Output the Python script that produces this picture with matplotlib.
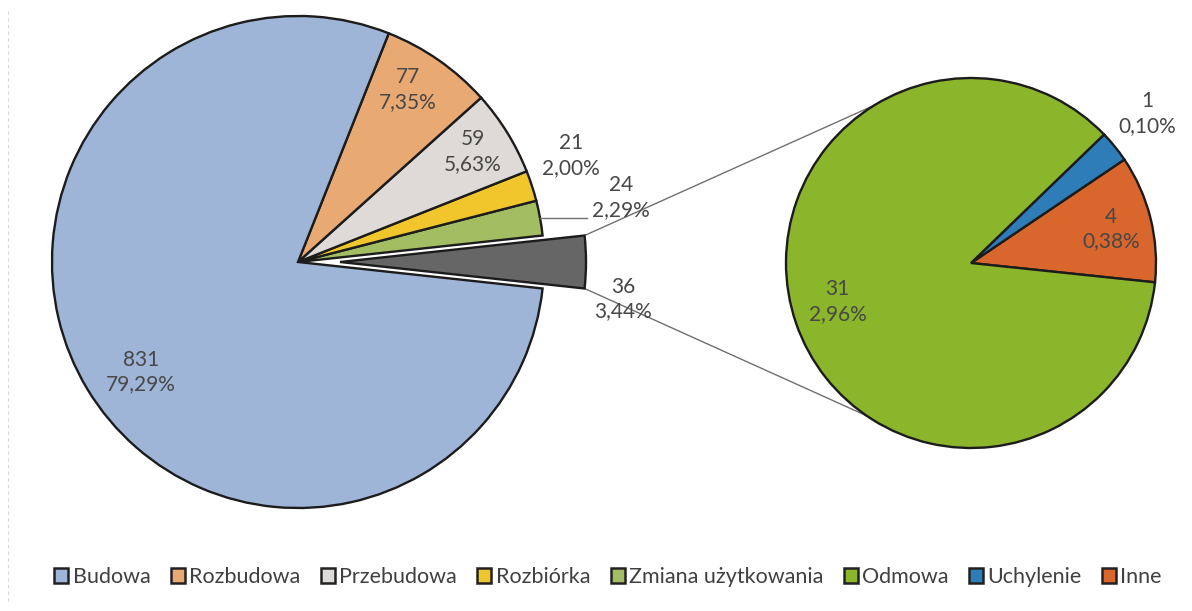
import numpy as np
import matplotlib
matplotlib.use("Agg")
import matplotlib.pyplot as plt
from matplotlib.patches import Patch

plt.rcParams['font.family'] = ['Lato', 'DejaVu Sans']

# ---- data ----
main_labels = ["Budowa", "Rozbudowa", "Przebudowa", "Rozbiórka", "Zmiana użytkowania"]
main_values = [831, 77, 59, 21, 24]
sub_labels = ["Odmowa", "Uchylenie", "Inne"]
sub_values = [31, 1, 4]

main_colors = ["#9fb5d8", "#e9a973", "#dddad7", "#f0c62c", "#a3bd62"]
other_color = "#666666"
sub_colors = ["#8bb52a", "#2f7db8", "#d9662c"]

W, H = 1192, 611
fig = plt.figure(figsize=(W / 100, H / 100), dpi=100)
ax = fig.add_axes([0, 0, 1, 1])

total = sum(main_values) + sum(sub_values)
other = sum(sub_values)

# left pie: counterclockwise from the exploded "other" slice
left_vals = [other] + main_values[::-1]
left_cols = [other_color] + main_colors[::-1]
other_deg = other / total * 360
c1 = (298, H - 262)
r1 = 246
explode_px = 42
start1 = -other_deg / 2
w1, _ = ax.pie(left_vals, colors=left_cols, startangle=start1, counterclock=True,
               center=c1, radius=r1, explode=[explode_px] + [0] * 5,
               wedgeprops=dict(edgecolor="#1c1c1c", linewidth=1.7))

# right pie
right_vals = [sub_values[2], sub_values[1], sub_values[0]]
right_cols = [sub_colors[2], sub_colors[1], sub_colors[0]]
c2 = (971, H - 263)
r2 = 185
w2, _ = ax.pie(right_vals, colors=right_cols, startangle=-6, counterclock=True,
               center=c2, radius=r2,
               wedgeprops=dict(edgecolor="#1c1c1c", linewidth=1.7))

def fmt(v):
    return f"{v}\n{v / total * 100:.2f}%".replace(".", ",")

txt_kw = dict(ha="center", va="center", fontsize=15, color="#474747", linespacing=1.3)

# label distances (fraction of radius) and angle offsets for left pie, in left_vals order
left_dist = [1.33, 1.34, 1.19, 0.84, 0.83, 0.78]
left_dang = [-6.5, 1.0, 3.3, 0.6, 2.4, 3.9]
for w, v, d, da in zip(w1, left_vals, left_dist, left_dang):
    mid = np.deg2rad((w.theta1 + w.theta2) / 2 + da)
    ax.text(c1[0] + d * r1 * np.cos(mid), c1[1] + d * r1 * np.sin(mid), fmt(v), **txt_kw)

right_dist = [0.78, 1.25, 0.75]
right_dang = [-0.4, 1.3, -3.0]
for w, v, d, da in zip(w2, right_vals, right_dist, right_dang):
    mid = np.deg2rad((w.theta1 + w.theta2) / 2 + da)
    ax.text(c2[0] + d * r2 * np.cos(mid), c2[1] + d * r2 * np.sin(mid), fmt(v), **txt_kw)

# leader line for the "24" label
wz = w1[1]
mz = np.deg2rad((wz.theta1 + wz.theta2) / 2)
x0 = c1[0] + r1 * np.cos(mz)
y0 = c1[1] + r1 * np.sin(mz)
ax.plot([x0, x0 + 47], [y0, y0], color="#707070", lw=1.0)

# connector lines between exploded slice and the right pie
wg = w1[0]
gc = wg.center
for ang_g, ang_r in [(wg.theta2, 121.5), (wg.theta1, 235.7)]:
    a = np.deg2rad(ang_g)
    b = np.deg2rad(ang_r)
    ax.plot([gc[0] + r1 * np.cos(a), c2[0] + r2 * np.cos(b)],
            [gc[1] + r1 * np.sin(a), c2[1] + r2 * np.sin(b)],
            color="#707070", lw=1.0, zorder=0.5)

# faint scan border on the left
ax.plot([8, 8], [10, H - 10], color="#d8d8d8", lw=0.8, ls=(0, (3, 3)))

ax.set_xlim(0, W)
ax.set_ylim(0, H)
ax.set_aspect("equal")
ax.axis("off")

handles = [Patch(facecolor=c, edgecolor="#222222", linewidth=1.8)
           for c in main_colors + sub_colors]
leg = ax.legend(handles, main_labels + sub_labels, loc="center",
                bbox_to_anchor=(608 / W, (H - 577) / H), ncol=8, frameon=False,
                fontsize=15.5, handlelength=0.65, handleheight=0.65,
                handletextpad=0.2, columnspacing=0.95, borderpad=0)
for t in leg.get_texts():
    t.set_color("#404040")

fig.savefig("out.png", dpi=100)
